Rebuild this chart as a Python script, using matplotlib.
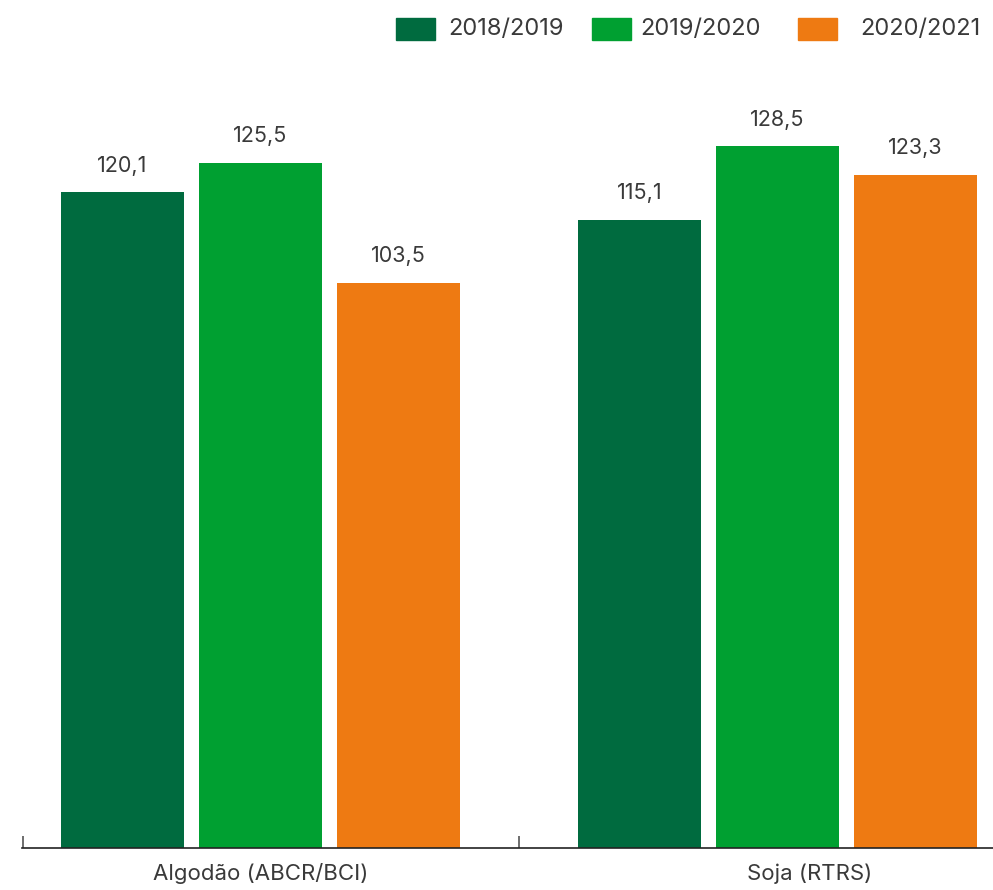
import numpy as np
import matplotlib.pyplot as plt
from matplotlib.patches import Rectangle
import matplotlib.transforms as mtransforms

plt.rcParams['font.family'] = ['Inter', 'DejaVu Sans']

# data
categories = ['Algodão (ABCR/BCI)', 'Soja (RTRS)']
seasons = ['2018/2019', '2019/2020', '2020/2021']
values = {
    '2018/2019': [120.1, 115.1],
    '2019/2020': [125.5, 128.5],
    '2020/2021': [103.5, 123.3],
}
colors = ['#006B3F', '#00A031', '#EE7A12']
text_color = '#3a3a3a'

fig = plt.figure(figsize=(9.93, 8.9), dpi=100)
ax = fig.add_axes([22 / 993, 42 / 890, 1 - 22 / 993, 848 / 890])

x = np.arange(len(categories))
width = 0.238
step = 0.267

for i, s in enumerate(seasons):
    bars = ax.bar(x + (i - 1) * step, values[s], width, color=colors[i], label=s)
    for b, v in zip(bars, values[s]):
        ax.text(b.get_x() + b.get_width() / 2, v + 3.0, f'{v:.1f}'.replace('.', ','),
                ha='center', va='bottom', fontsize=15.5, color=text_color)

ax.set_xlim(-0.461, 1.417)
ax.set_ylim(0, 155.3)

for side in ['top', 'right', 'left']:
    ax.spines[side].set_visible(False)
ax.spines['bottom'].set_color('#222222')
ax.spines['bottom'].set_linewidth(1.2)

ax.set_yticks([])
ax.set_xticks(x)
ax.set_xticklabels(categories, fontsize=16, color=text_color)
ax.tick_params(axis='x', length=0, pad=11)
# the second label sits a little right of its group in the original
lbl = ax.get_xticklabels()[1]
lbl.set_transform(lbl.get_transform() + mtransforms.ScaledTranslation(0.32, 0, fig.dpi_scale_trans))
ax.set_xticks([-0.459, 0.5], minor=True)
ax.tick_params(axis='x', which='minor', direction='in', length=9, width=1.2, color='#555555')

# legend drawn by hand across the top
leg_x = [396, 592, 798]
txt_x = [448, 640, 860]
for i, s in enumerate(seasons):
    fig.add_artist(Rectangle((leg_x[i] / 993, 1 - 40 / 890), 39 / 993, 22 / 890,
                             transform=fig.transFigure, color=colors[i]))
    fig.text(txt_x[i] / 993, 1 - 29 / 890, s, fontsize=17, color=text_color, va='center', ha='left')

fig.savefig('out.png', dpi=100)
